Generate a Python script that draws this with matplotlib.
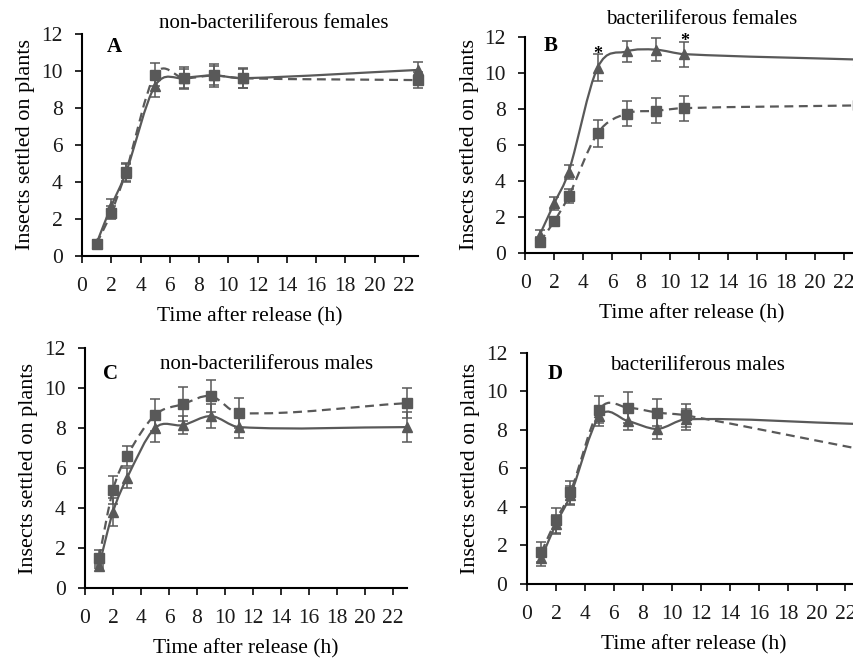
import numpy as np
import matplotlib
matplotlib.use('Agg')
import matplotlib.pyplot as plt
from matplotlib.path import Path
from matplotlib.patches import PathPatch

plt.rcParams['font.family'] = ['Liberation Serif', 'DejaVu Serif']

# hours after release
hours = [1, 2, 3, 5, 7, 9, 11, 23]

# A - non-bacteriliferous females
a_tri = [0.7, 2.7, 4.5, 9.2, 9.6, 9.75, 9.6, 10.05]
a_tri_err = [0.2, 0.4, 0.5, 0.6, 0.5, 0.5, 0.5, 0.45]
a_sq = [0.67, 2.35, 4.55, 9.8, 9.6, 9.75, 9.6, 9.5]
a_sq_err = [0.2, 0.35, 0.5, 0.6, 0.6, 0.6, 0.55, 0.45]

# B - bacteriliferous females
b_tri = [1.0, 2.75, 4.5, 10.3, 11.2, 11.3, 11.05, 10.75]
b_tri_err = [0.3, 0.35, 0.4, 0.75, 0.6, 0.65, 0.7, 0.6]
b_sq = [0.6, 1.75, 3.15, 6.65, 7.75, 7.9, 8.05, 8.2]
b_sq_err = [0.3, 0.2, 0.4, 0.75, 0.7, 0.7, 0.7, 0.6]
b_stars = [5, 11]

# C - non-bacteriliferous males
c_tri = [1.1, 3.8, 5.5, 8.0, 8.15, 8.6, 8.05, 8.05]
c_tri_err = [0.1, 0.7, 0.5, 0.7, 0.45, 0.6, 0.55, 0.75]
c_sq = [1.5, 4.9, 6.6, 8.65, 9.2, 9.6, 8.75, 9.25]
c_sq_err = [0.4, 0.7, 0.5, 0.8, 0.85, 0.8, 0.75, 0.75]

# D - bacteriliferous males
d_tri = [1.35, 3.1, 4.6, 8.7, 8.45, 8.05, 8.55, 8.3]
d_tri_err = [0.4, 0.5, 0.5, 0.5, 0.45, 0.55, 0.55, 0.5]
d_sq = [1.65, 3.3, 4.75, 9.05, 9.15, 8.9, 8.75, 7.0]
d_sq_err = [0.5, 0.65, 0.6, 0.7, 0.8, 0.7, 0.6, 0.5]

titles = ['non-bacteriliferous females', 'bacteriliferous females',
          'non-bacteriliferous males', 'bacteriliferous males']
letters = ['A', 'B', 'C', 'D']

gray = '#595959'


def smooth_path(x, y):
    # cubic hermite drawn as bezier, like excel "smoothed line"
    x = np.asarray(x, float)
    y = np.asarray(y, float)
    n = len(x)
    m = np.zeros(n)
    for i in range(n):
        if i == 0:
            m[i] = (y[1] - y[0]) / (x[1] - x[0])
        elif i == n - 1:
            m[i] = (y[-1] - y[-2]) / (x[-1] - x[-2])
        else:
            m[i] = (y[i + 1] - y[i - 1]) / (x[i + 1] - x[i - 1])
    verts = [(x[0], y[0])]
    codes = [Path.MOVETO]
    for i in range(n - 1):
        h = x[i + 1] - x[i]
        verts += [(x[i] + h / 3, y[i] + m[i] * h / 3),
                  (x[i + 1] - h / 3, y[i + 1] - m[i + 1] * h / 3),
                  (x[i + 1], y[i + 1])]
        codes += [Path.CURVE4] * 3
    return Path(verts, codes)


fig = plt.figure(figsize=(8.54, 6.62), dpi=100)
positions = [[0.096, 0.613, 0.394, 0.336],
             [0.615, 0.618, 0.390, 0.326],
             [0.0995, 0.112, 0.377, 0.362],
             [0.617, 0.118, 0.390, 0.349]]
data = [(a_tri, a_tri_err, a_sq, a_sq_err),
        (b_tri, b_tri_err, b_sq, b_sq_err),
        (c_tri, c_tri_err, c_sq, c_sq_err),
        (d_tri, d_tri_err, d_sq, d_sq_err)]
title_pos = [(13.1, 12.55), (12.2, 12.95), (13.0, 11.2), (11.8, 11.35)]
letter_pos = [(1.67, 11.3), (1.26, 11.5), (1.3, 10.7), (1.4, 10.9)]

for k in range(4):
    ax = fig.add_axes(positions[k])
    tri, tri_err, sq, sq_err = data[k]

    ax.add_patch(PathPatch(smooth_path(hours, sq), fill=False, edgecolor=gray,
                           lw=1.6, linestyle=(0, (4, 2.5)), zorder=2))
    ax.add_patch(PathPatch(smooth_path(hours, tri), fill=False, edgecolor=gray,
                           lw=1.6, zorder=2))
    ax.errorbar(hours, sq, yerr=sq_err, fmt='none', ecolor=gray, elinewidth=1.1,
                capsize=3.6, capthick=1.1, zorder=3, clip_on=False)
    ax.errorbar(hours, tri, yerr=tri_err, fmt='none', ecolor=gray, elinewidth=1.1,
                capsize=3.6, capthick=1.1, zorder=3, clip_on=False)
    ax.plot(hours, sq, 's', color=gray, ms=7.2, zorder=4, clip_on=False)
    ax.plot(hours, tri, '^', color=gray, ms=7.5, zorder=4, clip_on=False)

    ax.set_xlim(0, 23)
    ax.set_ylim(0, 12)
    ax.set_xticks(range(0, 23, 2))
    ax.set_yticks(range(0, 13, 2))
    ax.spines['top'].set_visible(False)
    ax.spines['right'].set_visible(False)
    ax.spines['left'].set_linewidth(1.5)
    ax.spines['bottom'].set_linewidth(1.5)
    ax.tick_params(direction='out', length=5, width=1.3, labelsize=15.5,
                   colors='#1a1a1a')
    ax.tick_params(axis='x', pad=10)
    ax.tick_params(axis='y', pad=9)
    ax.set_xlabel('Time after release (h)', fontsize=15.5, labelpad=8)
    ax.set_ylabel('Insects settled on plants', fontsize=16, labelpad=4)

    ax.text(title_pos[k][0], title_pos[k][1], titles[k], fontsize=15,
            ha='center', va='center', clip_on=False)
    ax.text(letter_pos[k][0], letter_pos[k][1], letters[k], fontsize=15,
            fontweight='bold', ha='left', va='center')

    if k == 1:
        for s in b_stars:
            i = hours.index(s)
            ax.text(s, tri[i] + tri_err[i] - 0.25, '*', fontsize=13,
                    fontweight='bold', ha='center', va='baseline', clip_on=False)

fig.savefig('out.png', dpi=100)
